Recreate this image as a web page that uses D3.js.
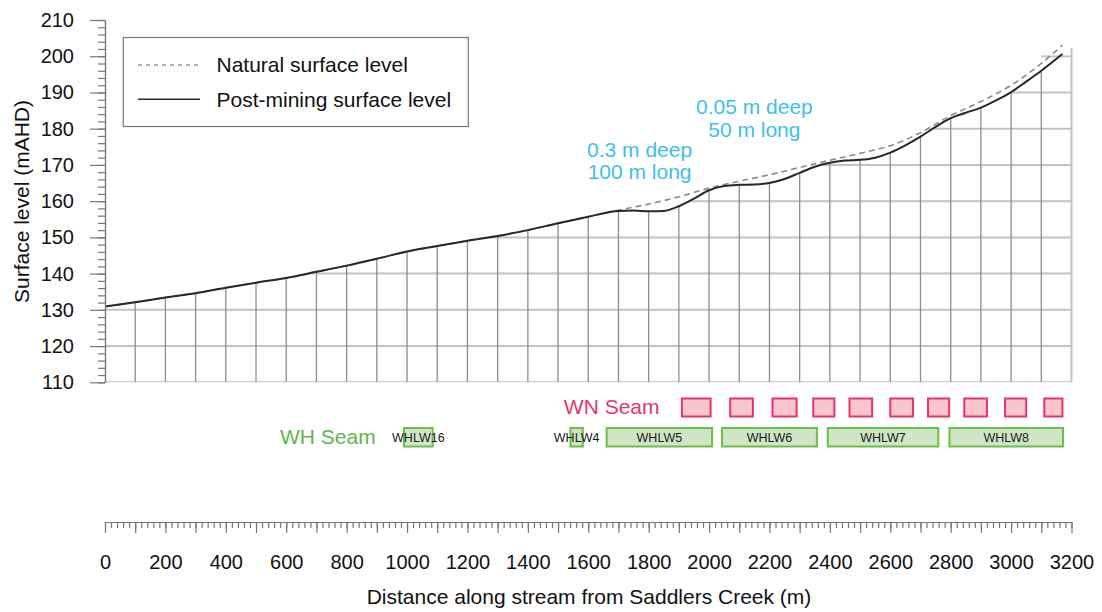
<!DOCTYPE html>
<html>
<head>
<meta charset="utf-8">
<script src="https://cdn.jsdelivr.net/npm/d3@7"></script>
<style>
body { margin: 0; background: #fff; }
svg text { font-family: "Liberation Sans", Arial, sans-serif; }
</style>
</head>
<body>
<svg id="chart" width="1102" height="612"></svg>
<script>
// distance along stream (m) and surface levels (mAHD)
var postDist = [0, 100, 200, 300, 400, 500, 600, 700, 800, 900, 1000, 1100, 1200, 1300, 1400, 1500, 1600,
	1700, 1750, 1800, 1850, 1900, 1950, 2000, 2050, 2100, 2150, 2200, 2250, 2300, 2350, 2400, 2450, 2500,
	2550, 2600, 2650, 2700, 2750, 2800, 2850, 2900, 2950, 3000, 3050, 3100, 3170];
var postLevel = [130.9, 132.1, 133.4, 134.6, 136.1, 137.5, 138.8, 140.5, 142.2, 144.1, 146.1, 147.6, 149.1, 150.4, 152.0, 153.9, 155.7,
	157.3, 157.4, 157.2, 157.3, 158.6, 160.7, 163.0, 164.2, 164.5, 164.6, 165.0, 166.1, 167.8, 169.5, 170.6, 171.2, 171.4,
	172.0, 173.4, 175.4, 177.8, 180.5, 182.9, 184.4, 185.8, 187.8, 190.1, 193.0, 196.0, 200.6];

var natDist = [0, 100, 200, 300, 400, 500, 600, 700, 800, 900, 1000, 1100, 1200, 1300, 1400, 1500, 1600,
	1700, 1800, 1900, 2000, 2100, 2200, 2300, 2400, 2500, 2600, 2700, 2800, 2900, 3000, 3100, 3170];
var natLevel = [130.9, 132.1, 133.4, 134.6, 136.1, 137.5, 138.8, 140.5, 142.2, 144.1, 146.1, 147.6, 149.1, 150.4, 152.0, 153.9, 155.7,
	157.5, 159.2, 161.2, 163.6, 165.5, 167.3, 169.3, 171.3, 173.2, 175.3, 178.9, 183.6, 187.5, 192.0, 198.0, 203.1];

// longwall panels (start / end distance, m)
var wnStart = [1910, 2070, 2210, 2345, 2465, 2600, 2725, 2845, 2980, 3110];
var wnEnd   = [2005, 2145, 2290, 2415, 2540, 2675, 2795, 2920, 3050, 3170];
var whNames = ['WHLW16', 'WHLW4', 'WHLW5', 'WHLW6', 'WHLW7', 'WHLW8'];
var whStart = [990, 1541, 1661, 2043, 2393, 2796];
var whEnd   = [1085, 1582, 2010, 2357, 2759, 3172];

var yTicks = d3.range(110, 211, 10);
var xLabels = d3.range(0, 3201, 200);

var svg = d3.select('#chart');
var x = d3.scaleLinear().domain([0, 3200]).range([105, 1071.5]);
var y = d3.scaleLinear().domain([110, 210]).range([382.3, 20]);

var postPts = postDist.map(function (d, i) { return [d, postLevel[i]]; });
var natPts = natDist.map(function (d, i) { return [d, natLevel[i]]; });

var line = d3.line()
	.x(function (d) { return x(d[0]); })
	.y(function (d) { return y(d[1]); })
	.curve(d3.curveMonotoneX);

var area = d3.area()
	.x(function (d) { return x(d[0]); })
	.y0(y(110))
	.y1(function (d) { return y(d[1]); })
	.curve(d3.curveMonotoneX);

//clip the grid to the ground below the post-mining surface
var defs = svg.append('defs');
defs.append('clipPath').attr('id', 'under')
	.append('path').attr('d', area(postPts));
var clipH = defs.append('clipPath').attr('id', 'underH');
clipH.append('path').attr('d', area(postPts));
clipH.append('rect')
	.attr('x', x(3100)).attr('y', y(200.3))
	.attr('width', x(3200) - x(3100)).attr('height', y(110) - y(200.3));

var grid = svg.append('g');
grid.append('g').attr('clip-path', 'url(#underH)')
	.selectAll('line').data(yTicks).enter().append('line')
	.attr('x1', x(0)).attr('x2', x(3200))
	.attr('y1', function (d) { return y(d); }).attr('y2', function (d) { return y(d); })
	.attr('stroke', '#c2c2c2').attr('stroke-width', 2);
grid.append('g').attr('clip-path', 'url(#under)')
	.selectAll('line').data(d3.range(100, 3200, 100)).enter().append('line')
	.attr('x1', function (d) { return x(d); }).attr('x2', function (d) { return x(d); })
	.attr('y1', y(110)).attr('y2', y(210))
	.attr('stroke', '#8e8e8e').attr('stroke-width', 1.3);
grid.append('line')
	.attr('x1', x(3200)).attr('x2', x(3200))
	.attr('y1', y(110)).attr('y2', y(202.3))
	.attr('stroke', '#c2c2c2').attr('stroke-width', 2);

//surface lines
svg.append('path').attr('d', line(natPts))
	.attr('fill', 'none').attr('stroke', '#8a8a8a')
	.attr('stroke-width', 1.6).attr('stroke-dasharray', '6,4');
svg.append('path').attr('d', line(postPts))
	.attr('fill', 'none').attr('stroke', '#1c2b33').attr('stroke-width', 2);

//y axis
var yAxisG = svg.append('g').attr('transform', 'translate(' + x(0) + ',0)');
yAxisG.append('g').call(d3.axisLeft(y).tickValues(d3.range(110, 211, 2)).tickSize(7).tickSizeOuter(0).tickFormat(''));
yAxisG.append('g').call(d3.axisLeft(y).tickValues(yTicks).tickSize(15).tickSizeOuter(0).tickPadding(16));
yAxisG.selectAll('path, line').attr('stroke', '#777').attr('stroke-width', 1.2);
yAxisG.selectAll('text').attr('font-size', 20).attr('fill', '#111')
	.attr('font-family', '"Liberation Sans", Arial, sans-serif');

svg.append('text')
	.attr('transform', 'translate(22,201.5) rotate(-90)')
	.attr('text-anchor', 'middle').attr('dy', '0.35em')
	.attr('font-size', 21).attr('fill', '#111')
	.text('Surface level (mAHD)');

//bottom distance axis
var xAxisG = svg.append('g').attr('transform', 'translate(0,522)');
xAxisG.append('g').call(d3.axisBottom(x).tickValues(d3.range(0, 3201, 20)).tickSize(6).tickSizeOuter(0).tickFormat(''));
xAxisG.append('g').call(d3.axisBottom(x).tickValues(d3.range(0, 3201, 100)).tickSize(11).tickSizeOuter(0).tickPadding(21.5)
	.tickFormat(function (d) { return xLabels.indexOf(d) >= 0 ? d : ''; }));
xAxisG.selectAll('path, line').attr('stroke', '#777').attr('stroke-width', 1.2);
xAxisG.selectAll('text').attr('font-size', 20).attr('fill', '#111')
	.attr('font-family', '"Liberation Sans", Arial, sans-serif');

svg.append('text')
	.attr('x', 589).attr('y', 597)
	.attr('text-anchor', 'middle').attr('dy', '0.35em')
	.attr('font-size', 21).attr('fill', '#111')
	.text('Distance along stream from Saddlers Creek (m)');

//legend
var legend = svg.append('g');
legend.append('rect')
	.attr('x', 123.3).attr('y', 37.5).attr('width', 345).attr('height', 89)
	.attr('fill', '#fff').attr('stroke', '#777').attr('stroke-width', 1.2);
legend.append('line')
	.attr('x1', 138).attr('x2', 200).attr('y1', 65).attr('y2', 65)
	.attr('stroke', '#999').attr('stroke-width', 1.3).attr('stroke-dasharray', '4,4');
legend.append('line')
	.attr('x1', 138).attr('x2', 200).attr('y1', 99.3).attr('y2', 99.3)
	.attr('stroke', '#1c2b33').attr('stroke-width', 1.6);
legend.append('text').attr('x', 216.5).attr('y', 65).attr('dy', '0.35em')
	.attr('font-size', 21).attr('fill', '#111').text('Natural surface level');
legend.append('text').attr('x', 216.5).attr('y', 99.3).attr('dy', '0.35em')
	.attr('font-size', 21).attr('fill', '#111').text('Post-mining surface level');

//subsidence notes
var notes = svg.append('g').attr('fill', '#3ebfeb').attr('font-size', 21).attr('text-anchor', 'middle');
notes.append('text').attr('x', x(1770)).attr('y', 150).attr('dy', '0.35em').text('0.3 m deep');
notes.append('text').attr('x', x(1770)).attr('y', 172).attr('dy', '0.35em').text('100 m long');
notes.append('text').attr('x', x(2150)).attr('y', 106.5).attr('dy', '0.35em').text('0.05 m deep');
notes.append('text').attr('x', x(2150)).attr('y', 130).attr('dy', '0.35em').text('50 m long');

//WN seam panels
svg.append('text').attr('x', 659.5).attr('y', 406.8).attr('dy', '0.35em')
	.attr('text-anchor', 'end').attr('font-size', 21).attr('fill', '#e8336b').text('WN Seam');
svg.append('g').selectAll('rect').data(wnStart).enter().append('rect')
	.attr('x', function (d) { return x(d); })
	.attr('y', 398.5)
	.attr('width', function (d, i) { return x(wnEnd[i]) - x(d); })
	.attr('height', 18)
	.attr('fill', '#f8c6cc').attr('stroke', '#e8336b').attr('stroke-width', 2);

//WH seam panels
svg.append('text').attr('x', 280).attr('y', 436.8).attr('dy', '0.35em')
	.attr('font-size', 21).attr('fill', '#5cb848').text('WH Seam');
var wh = svg.append('g');
wh.selectAll('rect').data(whStart).enter().append('rect')
	.attr('x', function (d) { return x(d); })
	.attr('y', 428)
	.attr('width', function (d, i) { return x(whEnd[i]) - x(d); })
	.attr('height', 18.5)
	.attr('fill', '#cfe5c8').attr('stroke', '#6abf45').attr('stroke-width', 2);
wh.selectAll('text').data(whNames).enter().append('text')
	.attr('x', function (d, i) { return (x(whStart[i]) + x(whEnd[i])) / 2; })
	.attr('y', 437.5).attr('dy', '0.35em')
	.attr('text-anchor', 'middle').attr('font-size', 12.5).attr('fill', '#1a1a1a')
	.text(function (d) { return d; });
</script>
</body>
</html>
